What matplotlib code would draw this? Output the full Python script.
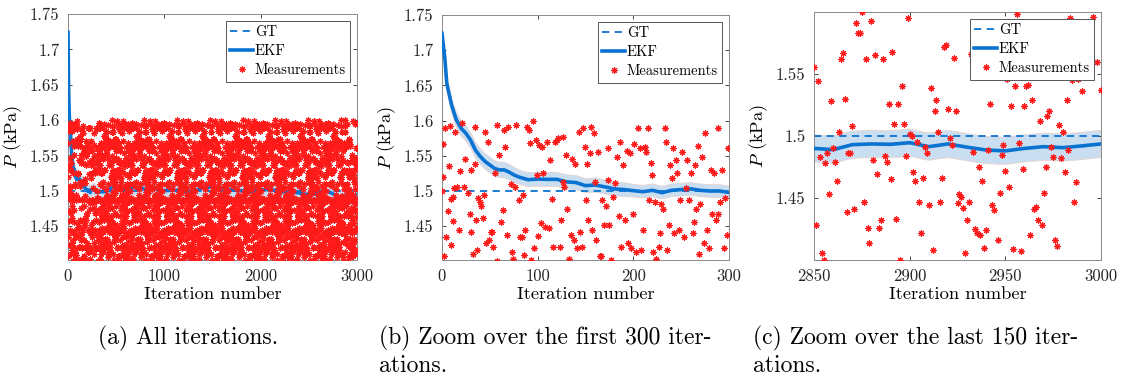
import numpy as np
import matplotlib
matplotlib.use("Agg")
import matplotlib.pyplot as plt
from matplotlib.ticker import FixedLocator, FuncFormatter

# ---------------- data ----------------
gt_value = 1.5

# EKF estimate (knots)
ekf_iter = [0, 3, 5, 10, 15, 20, 25, 30, 35, 40, 45, 50, 55, 60, 65, 70, 75, 80, 90,
            100, 110, 120, 130, 140, 150, 160, 170, 180, 190, 200, 210, 220, 230, 240,
            250, 260, 270, 280, 290, 300, 400, 450, 500, 600, 700, 800, 900, 1000, 1100,
            1200, 1300, 1400, 1500, 1600, 1700, 1800, 1850, 1900, 2000, 2100, 2150, 2200,
            2300, 2400, 2500, 2550, 2600, 2700, 2800, 2850, 2860, 2870, 2880, 2890, 2900,
            2910, 2920, 2930, 2940, 2950, 2960, 2970, 2980, 2990, 3000]
ekf_val = [1.724, 1.688, 1.653, 1.622, 1.601, 1.589, 1.582, 1.572, 1.558, 1.549, 1.542,
           1.537, 1.532, 1.530, 1.530, 1.527, 1.523, 1.520, 1.516, 1.517, 1.5165, 1.5166,
           1.513, 1.512, 1.5076, 1.5085, 1.506, 1.503, 1.502, 1.5005, 1.499, 1.501, 1.4976,
           1.501, 1.502, 1.503, 1.501, 1.500, 1.500, 1.498, 1.499, 1.504, 1.506, 1.502,
           1.505, 1.502, 1.504, 1.500, 1.501, 1.499, 1.499, 1.504, 1.506, 1.504, 1.501,
           1.500, 1.498, 1.499, 1.501, 1.502, 1.500, 1.499, 1.498, 1.497, 1.494, 1.495,
           1.499, 1.499, 1.492, 1.490, 1.489, 1.493, 1.4936, 1.4933, 1.4946, 1.4914,
           1.4936, 1.491, 1.4887, 1.488, 1.490, 1.4914, 1.4906, 1.492, 1.4936]
ekf_band = [0.004, 0.006, 0.008, 0.010, 0.011, 0.011, 0.011, 0.011, 0.011, 0.011, 0.011,
            0.011, 0.011, 0.011, 0.011, 0.011, 0.011, 0.010, 0.010, 0.010, 0.010, 0.010,
            0.010, 0.010, 0.010, 0.010, 0.010, 0.010, 0.010, 0.009, 0.009, 0.009, 0.009,
            0.009, 0.009, 0.009, 0.009, 0.009, 0.009, 0.009, 0.010, 0.010, 0.010, 0.010,
            0.010, 0.010, 0.010, 0.010, 0.010, 0.010, 0.010, 0.010, 0.010, 0.010, 0.010,
            0.010, 0.010, 0.010, 0.010, 0.010, 0.010, 0.010, 0.010, 0.010, 0.010, 0.010,
            0.010, 0.010, 0.010, 0.011, 0.011, 0.011, 0.011, 0.011, 0.011, 0.011, 0.011,
            0.011, 0.011, 0.011, 0.011, 0.011, 0.011, 0.011, 0.011]

meas_b_iter = [0, 1, 1, 2, 3, 4, 6, 7, 8, 9, 9, 11, 11, 13, 14, 16, 18, 19, 21, 23, 24, 27,
               29, 30, 30, 32, 34, 34, 36, 37, 38, 40, 41, 43, 44, 45, 46, 48, 49, 51, 52,
               53, 55, 57, 58, 60, 62, 64, 65, 66, 68, 69, 72, 73, 74, 76, 77, 80, 82, 84,
               85, 86, 87, 89, 91, 92, 93, 95, 96, 98, 99, 100, 101, 103, 105, 106, 108,
               110, 112, 113, 115, 116, 118, 120, 121, 123, 124, 126, 127, 128, 130, 131,
               133, 135, 136, 138, 139, 141, 143, 144, 146, 147, 149, 150, 152, 153, 155,
               156, 157, 159, 160, 161, 163, 165, 166, 167, 169, 171, 173, 174, 175, 177,
               179, 181, 183, 185, 186, 187, 189, 191, 193, 194, 196, 198, 200, 201, 203,
               205, 207, 208, 210, 212, 213, 215, 216, 218, 220, 221, 223, 224, 227, 228,
               229, 231, 233, 234, 235, 237, 238, 240, 241, 243, 245, 246, 248, 249, 251,
               253, 255, 256, 258, 260, 262, 263, 264, 266, 268, 269, 270, 272, 274, 275,
               277, 279, 281, 282, 284, 286, 288, 289, 291, 293, 295, 296, 298, 299]
meas_b_val = [1.500, 1.520, 1.567, 1.407, 1.589, 1.434, 1.472, 1.535, 1.593, 1.423, 1.488,
              1.492, 1.457, 1.504, 1.584, 1.505, 1.445, 1.529, 1.596, 1.506, 1.546, 1.497,
              1.468, 1.442, 1.530, 1.411, 1.591, 1.539, 1.459, 1.416, 1.490, 1.485, 1.479,
              1.461, 1.494, 1.584, 1.426, 1.570, 1.431, 1.442, 1.442, 1.420, 1.525, 1.401,
              1.594, 1.551, 1.456, 1.473, 1.587, 1.563, 1.437, 1.591, 1.510, 1.414, 1.404,
              1.506, 1.594, 1.487, 1.434, 1.435, 1.494, 1.409, 1.445, 1.591, 1.587, 1.568,
              1.402, 1.599, 1.419, 1.573, 1.523, 1.436, 1.565, 1.454, 1.563, 1.525, 1.449,
              1.569, 1.447, 1.544, 1.488, 1.420, 1.570, 1.573, 1.575, 1.421, 1.459, 1.577,
              1.513, 1.506, 1.551, 1.475, 1.404, 1.437, 1.545, 1.430, 1.539, 1.419, 1.584,
              1.442, 1.421, 1.589, 1.562, 1.487, 1.539, 1.459, 1.554, 1.591, 1.445, 1.582,
              1.513, 1.430, 1.556, 1.408, 1.408, 1.487, 1.452, 1.478, 1.561, 1.516, 1.452,
              1.402, 1.492, 1.511, 1.549, 1.464, 1.570, 1.421, 1.537, 1.459, 1.557, 1.426,
              1.554, 1.419, 1.468, 1.567, 1.414, 1.589, 1.561, 1.416, 1.445, 1.563, 1.556,
              1.589, 1.487, 1.540, 1.523, 1.414, 1.485, 1.403, 1.421, 1.440, 1.482, 1.474,
              1.589, 1.570, 1.416, 1.452, 1.537, 1.518, 1.561, 1.440, 1.544, 1.525, 1.445,
              1.487, 1.556, 1.435, 1.504, 1.544, 1.487, 1.525, 1.440, 1.456, 1.537, 1.475,
              1.564, 1.411, 1.482, 1.549, 1.426, 1.582, 1.445, 1.419, 1.530, 1.468, 1.525,
              1.459, 1.468, 1.589, 1.485, 1.530, 1.419, 1.490, 1.437, 1.561]

meas_c_iter = list(range(2850, 2991)) + [2996, 2998, 3000]
meas_c_val = [1.556, 1.428, 1.544, 1.483, 1.406, 1.400, 1.478, 1.486, 1.453, 1.528, 1.490,
              1.479, 1.464, 1.503, 1.562, 1.567, 1.530, 1.439, 1.486, 1.486, 1.508, 1.441,
              1.591, 1.583, 1.583, 1.600, 1.447, 1.562, 1.426, 1.414, 1.593, 1.481, 1.565,
              1.469, 1.426, 1.432, 1.562, 1.484, 1.479, 1.526, 1.465, 1.568, 1.510, 1.433,
              1.526, 1.400, 1.540, 1.510, 1.484, 1.595, 1.502, 1.500, 1.471, 1.464, 1.495,
              1.447, 1.422, 1.466, 1.491, 1.486, 1.444, 1.539, 1.408, 1.520, 1.529, 1.503,
              1.447, 1.466, 1.572, 1.573, 1.522, 1.498, 1.493, 1.563, 1.520, 1.446, 1.453,
              1.451, 1.442, 1.406, 1.432, 1.447, 1.566, 1.487, 1.425, 1.422, 1.475, 1.420,
              1.464, 1.410, 1.424, 1.489, 1.526, 1.444, 1.440, 1.550, 1.416, 1.454, 1.485,
              1.493, 1.472, 1.546, 1.459, 1.524, 1.409, 1.540, 1.598, 1.494, 1.407, 1.473,
              1.524, 1.540, 1.541, 1.420, 1.529, 1.441, 1.443, 1.432, 1.512, 1.428, 1.454,
              1.475, 1.516, 1.520, 1.491, 1.483, 1.416, 1.411, 1.509, 1.482, 1.503, 1.471,
              1.529, 1.489, 1.595, 1.545, 1.447, 1.463, 1.546, 1.560, 1.536, 1.596, 1.560,
              1.537]

# The saturated middle band of panel (a) (iterations 300-2849) cannot be read point by
# point; it is represented by the samples read above, reused (visited with a fixed stride).
pool_vals = meas_b_val + meas_c_val
mid_iter = list(range(300, 2850))
mid_val = [pool_vals[(i * 97) % len(pool_vals)] for i in range(len(mid_iter))]
meas_a_iter = meas_b_iter + mid_iter + meas_c_iter
meas_a_val = meas_b_val + mid_val + meas_c_val

captions = [["(a) All iterations."],
            ["(b) Zoom over the first 300 iter-", "ations."],
            ["(c) Zoom over the last 150 iter-", "ations."]]

# ---------------- styling ----------------
plt.rcParams['font.family'] = 'serif'
plt.rcParams['font.serif'] = ['cmr10']
plt.rcParams['mathtext.fontset'] = 'cm'
plt.rcParams['axes.unicode_minus'] = False
plt.rcParams['axes.formatter.use_mathtext'] = True

BLUE = '#0a72d1'
BAND = '#c5dbf1'
RED = '#ff1a1a'
SPINE = '#8a8a8a'

W, H = 1126, 378
fig = plt.figure(figsize=(W / 100, H / 100), dpi=100)


def ax_rect(l, r, t, b):
    return [l / W, 1 - b / H, (r - l) / W, (b - t) / H]


axes_px = [(68, 357, 14, 260), (442, 729, 15, 260), (814, 1101, 12, 260)]
xlims = [(0, 3000), (0, 300), (2850, 3000)]
ylims = [(1.402, 1.75), (1.402, 1.75), (1.400, 1.600)]
xticks = [[0, 1000, 2000, 3000], [0, 100, 200, 300], [2850, 2900, 2950, 3000]]
yticks = [[1.45, 1.5, 1.55, 1.6, 1.65, 1.7, 1.75], [1.45, 1.5, 1.55, 1.6, 1.65, 1.7, 1.75],
          [1.45, 1.5, 1.55]]
meas_sets = [(meas_a_iter, meas_a_val), (meas_b_iter, meas_b_val), (meas_c_iter, meas_c_val)]
caption_x = [98, 379, 753]
caption_base = [344, 372]

ekf_x = np.array(ekf_iter)
ekf_y = np.array(ekf_val)
ekf_s = np.array(ekf_band)

for k in range(3):
    ax = fig.add_axes(ax_rect(*axes_px[k]))
    ax.fill_between(ekf_x, ekf_y - ekf_s, ekf_y + ekf_s, color=BAND, alpha=0.9,
                    edgecolor='#e9cfc8', linewidth=0.6, zorder=1)
    ax.plot([xlims[k][0], xlims[k][1]], [gt_value, gt_value], linestyle=(0, (4, 3)),
            color=BLUE, lw=1.3, label='GT', zorder=2)
    ax.plot(ekf_x, ekf_y, color=BLUE, lw=2.6, label='EKF', zorder=3)
    mx, my = meas_sets[k]
    ax.plot(mx, my, linestyle='none', marker=(8, 2, 0), markersize=4.6,
            markeredgewidth=0.8, color=RED, markeredgecolor=RED, label='Measurements',
            zorder=4)
    ax.set_xlim(*xlims[k])
    ax.set_ylim(*ylims[k])
    ax.xaxis.set_major_locator(FixedLocator(xticks[k]))
    ax.yaxis.set_major_locator(FixedLocator(yticks[k]))
    ax.yaxis.set_major_formatter(FuncFormatter(lambda v, p: f"{v:g}"))
    ax.xaxis.set_major_formatter(FuncFormatter(lambda v, p: f"{v:g}"))
    ax.tick_params(direction='in', length=3, width=0.6, colors='#262626',
                   labelsize=12, top=True, right=True, pad=6)
    for sp in ax.spines.values():
        sp.set_color(SPINE)
        sp.set_linewidth(0.7)
    ax.set_xlabel('Iteration number', fontsize=13.3, labelpad=2)
    ax.set_ylabel(r'$P$ (kPa)', fontsize=13.3, labelpad=4)
    leg = ax.legend(loc='upper right', fontsize=10.5, handlelength=1.6,
                    handletextpad=0.1, borderpad=0.3, labelspacing=0.38,
                    borderaxespad=0.45, fancybox=False, framealpha=1)
    leg.get_frame().set_edgecolor('#555555')
    leg.get_frame().set_linewidth(0.7)
    for j, line in enumerate(captions[k]):
        fig.text(caption_x[k] / W, 1 - caption_base[j] / H, line, fontsize=17,
                 ha='left', va='baseline')

fig.savefig('out.png', dpi=100)
